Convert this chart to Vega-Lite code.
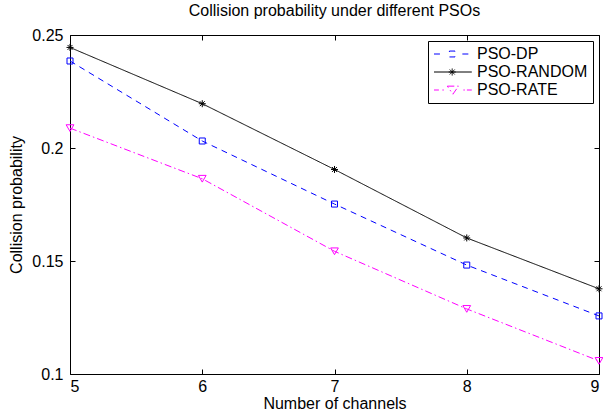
{
  "$schema": "https://vega.github.io/schema/vega-lite/v6.json",
  "autosize": {"type": "none"},
  "width": 529,
  "height": 339,
  "padding": {"left": 70, "top": 35, "right": 4, "bottom": 38},
  "background": "white",
  "title": {
    "text": "Collision probability under different PSOs",
    "font": "Liberation Sans",
    "fontSize": 16,
    "fontWeight": "normal",
    "color": "black",
    "offset": 8
  },
  "config": {
    "view": {"stroke": "black", "strokeWidth": 1},
    "axis": {
      "domain": false,
      "grid": false,
      "tickColor": "black",
      "tickSize": -5,
      "tickWidth": 1,
      "labelColor": "black",
      "labelFont": "Liberation Sans",
      "labelFontSize": 16,
      "titleColor": "black",
      "titleFont": "Liberation Sans",
      "titleFontSize": 16,
      "titleFontWeight": "normal"
    }
  },
  "data": {
    "values": [
      {"channels": 5, "series": "PSO-DP", "p": 0.2385},
      {"channels": 6, "series": "PSO-DP", "p": 0.2031},
      {"channels": 7, "series": "PSO-DP", "p": 0.1752},
      {"channels": 8, "series": "PSO-DP", "p": 0.1482},
      {"channels": 9, "series": "PSO-DP", "p": 0.1257},
      {"channels": 5, "series": "PSO-RANDOM", "p": 0.2445},
      {"channels": 6, "series": "PSO-RANDOM", "p": 0.2196},
      {"channels": 7, "series": "PSO-RANDOM", "p": 0.1905},
      {"channels": 8, "series": "PSO-RANDOM", "p": 0.1602},
      {"channels": 9, "series": "PSO-RANDOM", "p": 0.1377},
      {"channels": 5, "series": "PSO-RATE", "p": 0.2088},
      {"channels": 6, "series": "PSO-RATE", "p": 0.1864},
      {"channels": 7, "series": "PSO-RATE", "p": 0.1543},
      {"channels": 8, "series": "PSO-RATE", "p": 0.1288},
      {"channels": 9, "series": "PSO-RATE", "p": 0.1058}
    ]
  },
  "layer": [
    {
      "mark": {"type": "line", "strokeWidth": 1},
      "encoding": {
        "x": {
          "field": "channels", "type": "quantitative",
          "scale": {"domain": [5, 9], "nice": false, "zero": false},
          "axis": {"orient": "bottom", "values": [5, 6, 7, 8, 9], "format": "d", "title": "Number of channels", "labelPadding": 9, "titlePadding": 1}
        },
        "y": {
          "field": "p", "type": "quantitative",
          "scale": {"domain": [0.1, 0.25], "nice": false, "zero": false},
          "axis": {"orient": "left", "values": [0.1, 0.15, 0.2, 0.25], "format": "~g", "title": "Collision probability", "labelPadding": 12, "titlePadding": 7}
        },
        "color": {
          "field": "series", "type": "nominal",
          "scale": {"domain": ["PSO-DP", "PSO-RANDOM", "PSO-RATE"], "range": ["#0000ff", "#000000", "#ff00ff"]},
          "legend": {
            "title": null,
            "orient": "top-right",
            "offset": 6,
            "fillColor": "white",
            "strokeColor": "black",
            "padding": 5,
            "symbolType": "M-1,0H4",
            "symbolSize": 196,
            "symbolStrokeWidth": 1,
            "labelOffset": 28,
            "labelFont": "Liberation Sans",
            "labelFontSize": 16,
            "labelColor": "black",
            "rowPadding": 2,
            "encode": {
              "symbols": {
                "update": {
                  "shape": {"signal": "datum.value === 'PSO-DP' ? 'M-1,0H-0.15M3.05,0H4.2M1.2,-0.42H2V0.42H1.2Z' : datum.value === 'PSO-RANDOM' ? 'M-1,0H4.4M1.6,-0.5V0.5M1.1,0H2.1M1.25,-0.35L1.95,0.35M1.25,0.35L1.95,-0.35' : 'M-1,0H-0.3M0.2,0H0.4M0.9,-0.55H2.5L1.7,0.6ZM3.2,0H3.4M3.7,0H4.4'"},
                  "size": {"value": 196},
                  "fill": {"value": "transparent"},
                  "strokeDash": {"value": []},
                  "strokeWidth": {"value": 1}
                }
              }
            }
          }
        },
        "strokeDash": {
          "field": "series", "type": "nominal",
          "scale": {"domain": ["PSO-DP", "PSO-RANDOM", "PSO-RATE"], "range": [[6, 5], [1, 0], [7, 3, 1.5, 3]]},
          "legend": null
        }
      }
    },
    {
      "transform": [{"filter": "datum.series === 'PSO-DP'"}],
      "mark": {"type": "point", "filled": false, "strokeWidth": 1, "opacity": 1, "shape": "square", "size": 36, "color": "#0000ff"},
      "encoding": {
        "x": {
          "field": "channels", "type": "quantitative",
          "axis": {"orient": "top", "values": [5, 6, 7, 8, 9], "labels": false, "title": null}
        },
        "y": {
          "field": "p", "type": "quantitative",
          "axis": {"orient": "right", "values": [0.1, 0.15, 0.2, 0.25], "labels": false, "title": null}
        }
      }
    },
    {
      "transform": [{"filter": "datum.series === 'PSO-RANDOM'"}],
      "mark": {"type": "point", "filled": false, "strokeWidth": 1, "opacity": 1, "shape": "M-1,0H1M0,-1V1M-0.7,-0.7L0.7,0.7M-0.7,0.7L0.7,-0.7", "size": 49, "color": "#000000"},
      "encoding": {
        "x": {"field": "channels", "type": "quantitative", "axis": null},
        "y": {"field": "p", "type": "quantitative", "axis": null}
      }
    },
    {
      "transform": [{"filter": "datum.series === 'PSO-RATE'"}],
      "mark": {"type": "point", "filled": false, "strokeWidth": 1, "opacity": 1, "shape": "triangle-down", "size": 60, "color": "#ff00ff"},
      "encoding": {
        "x": {"field": "channels", "type": "quantitative", "axis": null},
        "y": {"field": "p", "type": "quantitative", "axis": null}
      }
    }
  ],
  "resolve": {"axis": {"x": "independent", "y": "independent"}}
}
